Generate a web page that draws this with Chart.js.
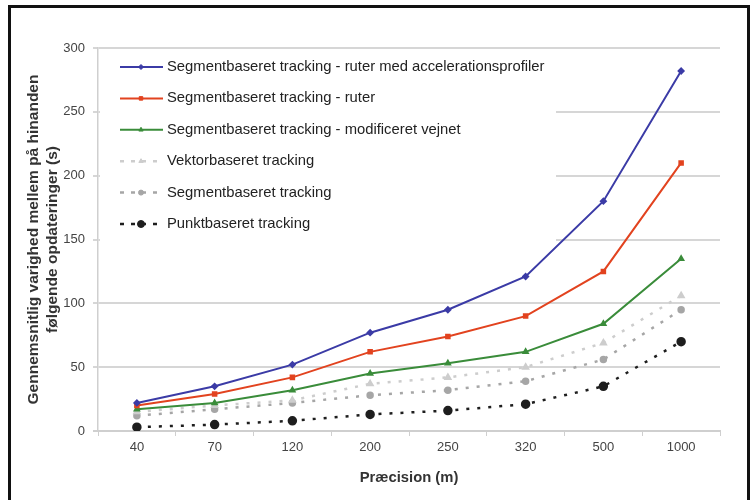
<!DOCTYPE html>
<html>
<head>
<meta charset="utf-8">
<script src="https://cdn.jsdelivr.net/npm/chart.js@4/dist/chart.umd.min.js"></script>
<style>
    html, body { margin: 0; padding: 0; background: #fff; }
    #wrap { position: relative; width: 753px; height: 500px; overflow: hidden; }
    #frame {
        position: absolute; left: 8px; top: 5px; width: 736px; height: 520px;
        border: 3px solid #111; pointer-events: none;
    }
</style>
</head>
<body>
<div id="wrap">
    <canvas id="myChart" width="753" height="500"></canvas>
    <div id="frame"></div>
</div>
<script>
const labels = ["40", "70", "120", "200", "250", "320", "500", "1000"];
const seriesNames = [
    "Segmentbaseret tracking - ruter med accelerationsprofiler",
    "Segmentbaseret tracking - ruter",
    "Segmentbaseret tracking - modificeret vejnet",
    "Vektorbaseret tracking",
    "Segmentbaseret tracking",
    "Punktbaseret tracking",
];
const ruterAccel = [22, 35, 52, 77, 95, 121, 180, 282];
const ruter = [20, 29, 42, 62, 74, 90, 125, 210];
const vejnet = [17, 22, 32, 45, 53, 62, 84, 135];
const vektor = [15, 20, 24, 37, 42, 50, 69, 106];
const segment = [12, 17, 22, 28, 32, 39, 56, 95];
const punkt = [3, 5, 8, 13, 16, 21, 35, 70];
const yTicks = [0, 50, 100, 150, 200, 250, 300];

const FONT = "Arial, 'Liberation Sans', sans-serif";

function lineSet(name, data, color, style, dashed, radius) {
    return {
        label: name,
        data: data,
        borderColor: color,
        backgroundColor: color,
        borderWidth: dashed ? 2.5 : 2,
        borderDash: dashed ? [3, 8] : [],
        pointStyle: style,
        pointRadius: radius,
        pointHoverRadius: radius,
        tension: 0,
    };
}

// legend drawn inside the plot, on a white box
const innerLegend = {
    id: "innerLegend",
    beforeDatasetsDraw(chart) {
        const ctx = chart.ctx;
        ctx.save();
        ctx.fillStyle = "#fff";
        ctx.fillRect(100, 50, 456, 196);
        ctx.restore();
    },
    afterDatasetsDraw(chart) {
        const ctx = chart.ctx;
        ctx.save();
        chart.data.datasets.forEach((ds, i) => {
            const y = 67 + i * 31.4;
            ctx.strokeStyle = ds.borderColor;
            ctx.lineWidth = ds.borderWidth;
            ctx.setLineDash(ds.borderDash.length ? [4, 7] : []);
            ctx.beginPath();
            ctx.moveTo(120, y);
            ctx.lineTo(163, y);
            ctx.stroke();
            ctx.setLineDash([]);
            ctx.fillStyle = ds.borderColor;
            ctx.lineWidth = 1;
            Chart.helpers.drawPoint(ctx, {
                pointStyle: ds.pointStyle,
                radius: ds.pointRadius,
                borderWidth: 1,
            }, 141, y);
            ctx.fillStyle = "#222";
            ctx.font = "14.8px " + FONT;
            ctx.textBaseline = "middle";
            ctx.fillText(ds.label, 167, y);
        });
        ctx.restore();
    },
};

const ctx = document.getElementById("myChart");
new Chart(ctx, {
    type: "line",
    data: {
        labels: labels,
        datasets: [
            lineSet(seriesNames[0], ruterAccel, "#3b3ba6", "rectRot", false, 2.5),
            lineSet(seriesNames[1], ruter, "#e2431f", "rect", false, 2.5),
            lineSet(seriesNames[2], vejnet, "#3a8c3a", "triangle", false, 2.5),
            lineSet(seriesNames[3], vektor, "#cdcdcd", "triangle", true, 2.5),
            lineSet(seriesNames[4], segment, "#a6a6a6", "circle", true, 2.5),
            lineSet(seriesNames[5], punkt, "#1e1e1e", "circle", true, 3.5),
        ],
    },
    options: {
        responsive: false,
        animation: false,
        layout: { padding: { left: 24, top: 48, right: 33, bottom: 0 } },
        plugins: {
            legend: { display: false },
            tooltip: { enabled: false },
        },
        scales: {
            x: {
                offset: true,
                afterFit: (scale) => { scale.height = 69; },
                grid: {
                    display: true,
                    drawOnChartArea: false,
                    offset: true,
                    tickLength: 5,
                    color: "#cfcfcf",
                },
                border: { color: "#cfcfcf", width: 2 },
                ticks: {
                    color: "#444",
                    font: { family: FONT, size: 13 },
                    padding: 4,
                },
                title: {
                    display: true,
                    text: "Præcision (m)",
                    color: "#333",
                    font: { family: FONT, size: 14.8, weight: "bold" },
                    padding: { top: 4, bottom: 13 },
                },
            },
            y: {
                min: 0,
                max: 300,
                afterFit: (scale) => { scale.width = 74; },
                afterBuildTicks: (scale) => {
                    scale.ticks = yTicks.map((v) => ({ value: v }));
                },
                grid: {
                    color: (c) => (c.tick && c.tick.value === 0 ? "#cfcfcf" : "#d6d6d6"),
                    lineWidth: 2,
                    tickLength: 5,
                },
                border: { color: "#cfcfcf", width: 1.5 },
                ticks: {
                    color: "#444",
                    font: { family: FONT, size: 13 },
                    padding: 8,
                },
                title: {
                    display: true,
                    text: ["Gennemsnitlig varighed mellem på hinanden", "følgende opdateringer (s)"],
                    color: "#333",
                    font: { family: FONT, size: 15.5, weight: "bold", lineHeight: 1.25 },
                    padding: { top: 0, bottom: 0 },
                },
            },
        },
    },
    plugins: [innerLegend],
});
</script>
</body>
</html>
